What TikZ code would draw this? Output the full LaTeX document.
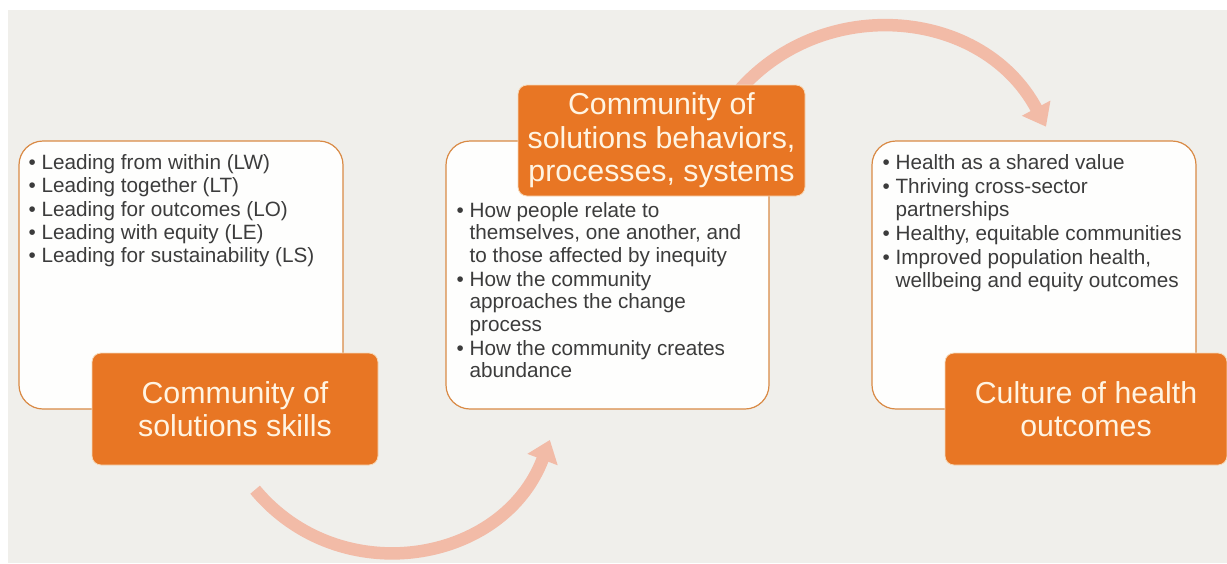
\documentclass[tikz,border=0pt]{standalone}
\usepackage{fontspec}
\setmainfont{Liberation Sans}
\usetikzlibrary{arrows.meta,positioning}

\definecolor{bggray}{HTML}{F0EFEB}
\definecolor{boxfill}{HTML}{FEFEFD}
\definecolor{boxline}{HTML}{D98A45}
\definecolor{tagorange}{HTML}{E87624}
\definecolor{tagrim}{HTML}{F6D9B8}
\definecolor{tagtext}{HTML}{FFF4E2}
\definecolor{bodytext}{HTML}{3C3C3C}
\definecolor{flowpink}{HTML}{F2BBA7}

% bullet and hanging indent
\newcommand{\bul}{\makebox[13pt][l]{\textbullet}}
\newcommand{\ind}{\hspace*{13pt}}

\begin{document}
\begin{tikzpicture}[
    x=1pt, y=-1pt,
    panel/.style={draw=boxline, line width=1.2pt, fill=boxfill, rounded corners=24pt, minimum width=324pt, minimum height=268pt, inner sep=0pt},
    tag/.style={fill=tagorange, draw=tagrim, line width=0.8pt, rounded corners=9pt, text=tagtext, font=\fontsize{30.3}{33.5}\selectfont, align=center, inner sep=0pt},
    items/.style={anchor=north west, inner sep=0pt, align=left, text=bodytext, font=\fontsize{20.7}{22.3}\selectfont},
    flow/.style={draw=flowpink, line width=12.5pt, -{Triangle[width=31pt,length=21pt]}}
]
% Background
\fill[white] (0,0) rectangle (1227,563);
\fill[bggray] (8,10) rectangle (1227,563);
\useasboundingbox (0,0) rectangle (1227,563);

% Arrows
\coordinate (s1) at (255.1,489.7);
\coordinate (e1) at (549.9,439.9);
\coordinate (s2) at (726,107.2);
\coordinate (e2) at (1046,126.7);
\draw[flow] (s1) .. controls (340,591.6) and (503.3,564) .. (e1);
\draw[flow] (s2) .. controls (806.5,-7.8) and (980.1,2.7) .. (e2);

% Panels
\node[panel] (box1) at (181,275) {};
\node[panel, minimum width=323pt] (box2) at (607.5,275) {};
\node[panel] (box3) at (1034,275) {};

% Bullet lists
\node[items] (list1) at ([xshift=10pt, yshift=-14pt]box1.north west) {%
\bul Leading from within (LW)\\[1pt]
\bul Leading together (LT)\\[1pt]
\bul Leading for outcomes (LO)\\[1pt]
\bul Leading with equity (LE)\\[1pt]
\bul Leading for sustainability (LS)};

\node[items] (list2) at ([xshift=11pt, yshift=-62pt]box2.north west) {%
\bul How people relate to\\
\ind themselves, one another, and\\
\ind to those affected by inequity\\[2pt]
\bul How the community\\
\ind approaches the change\\
\ind process\\[2pt]
\bul How the community creates\\
\ind abundance};

\node[items] (list3) at ([xshift=11pt, yshift=-14pt]box3.north west) {%
\bul Health as a shared value\\[2pt]
\bul Thriving cross-sector\\
\ind partnerships\\[2pt]
\bul Healthy, equitable communities\\[2pt]
\bul Improved population health,\\
\ind wellbeing and equity outcomes};

% Tags
\node[tag, minimum width=286pt, minimum height=112pt] (tag1) at (235,409) {Community of\\solutions skills};
\node[tag, minimum width=287pt, minimum height=111pt] (tag2) at (661.5,140.5) {Community of\\solutions behaviors,\\processes, systems};
\node[tag, minimum width=282pt, minimum height=112pt] (tag3) at (1086,409) {Culture of health\\outcomes};

\end{tikzpicture}
\end{document}
